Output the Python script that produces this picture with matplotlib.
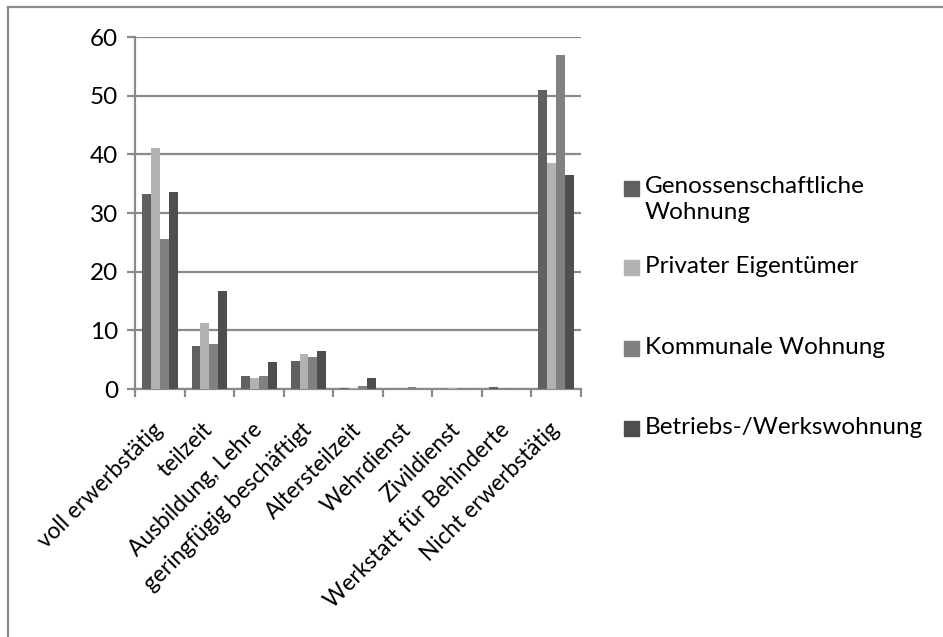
import matplotlib
matplotlib.use("Agg")
import matplotlib.pyplot as plt
import matplotlib.transforms as mtransforms
from matplotlib.patches import Rectangle
from matplotlib.lines import Line2D
import numpy as np

plt.rcParams['font.family'] = ['Lato', 'DejaVu Sans']

categories = ['voll erwerbstätig', 'teilzeit', 'Ausbildung, Lehre',
              'geringfügig beschäftigt', 'Altersteilzeit', 'Wehrdienst',
              'Zivildienst', 'Werkstatt für Behinderte', 'Nicht erwerbstätig']

series_names = ['Genossenschaftliche\nWohnung', 'Privater Eigentümer',
                'Kommunale Wohnung', 'Betriebs-/Werkswohnung']

genossenschaft = [33.3, 7.3, 2.2, 4.7, 0.2, 0.0, 0.0, 0.35, 50.9]
privat = [41.1, 11.3, 1.8, 5.9, 0.15, 0.0, 0.15, 0.0, 38.6]
kommunal = [25.6, 7.7, 2.3, 5.4, 0.45, 0.4, 0.15, 0.15, 56.9]
betrieb = [33.5, 16.7, 4.6, 6.4, 1.8, 0.0, 0.0, 0.0, 36.4]

colors = ['#606060', '#b2b2b2', '#818181', '#4e4e4e']
values = [genossenschaft, privat, kommunal, betrieb]
FS = 17.5

fig = plt.figure(figsize=(9.43, 6.37), dpi=100)
ax = fig.add_axes([0.1432, 0.3893, 0.4729, 0.5526])

x = np.arange(len(categories))
w = 0.18
for i, (vals, c) in enumerate(zip(values, colors)):
    ax.bar(x + (i - 1.5) * w, vals, width=w, color=c, zorder=3)

ax.set_xlim(-0.5, len(categories) - 0.5)
ax.set_ylim(0, 60)
ax.set_yticks(np.arange(0, 61, 10))
ax.yaxis.grid(True, color='#8a8a8a', linewidth=1.6, zorder=0)
for s in ['top', 'right']:
    ax.spines[s].set_visible(False)
for s in ['left', 'bottom']:
    ax.spines[s].set_color('#8a8a8a')
    ax.spines[s].set_linewidth(1.6)

ax.set_xticks(np.arange(-0.5, len(categories), 1.0))
ax.set_xticklabels([])
ax.set_xticks(x, minor=True)
ax.set_xticklabels(categories, minor=True, rotation=45, ha='right',
                   va='center', rotation_mode='anchor', fontsize=16.3)
shift = mtransforms.ScaledTranslation(-5 / 100, 0, fig.dpi_scale_trans)
for lbl in ax.get_xticklabels(minor=True):
    lbl.set_transform(lbl.get_transform() + shift)
ax.tick_params(axis='x', which='minor', length=0, pad=27)
ax.tick_params(axis='x', which='major', length=6, width=1.6, color='#8a8a8a',
               direction='out')
ax.tick_params(axis='y', length=6, width=1.6, color='#8a8a8a', pad=6,
               labelsize=FS)

# legend drawn by hand
legend_y = [0.705, 0.58, 0.453, 0.327]
for name, c, ly in zip(series_names, colors, legend_y):
    fig.patches.append(Rectangle((0.6617, ly - 0.012), 0.0159, 0.0235,
                                 transform=fig.transFigure, color=c))
    fig.text(0.684, ly + 0.018, name, fontsize=FS, va='top', ha='left',
             linespacing=1.25)

# chart area border (top and left only visible)
fig.lines.append(Line2D([0.0085, 1.0], [0.989, 0.989], transform=fig.transFigure,
                        color='#8a8a8a', linewidth=1.6))
fig.lines.append(Line2D([0.0085, 0.0085], [0.0, 0.989], transform=fig.transFigure,
                        color='#8a8a8a', linewidth=1.6))

fig.savefig('out.png', dpi=100)
